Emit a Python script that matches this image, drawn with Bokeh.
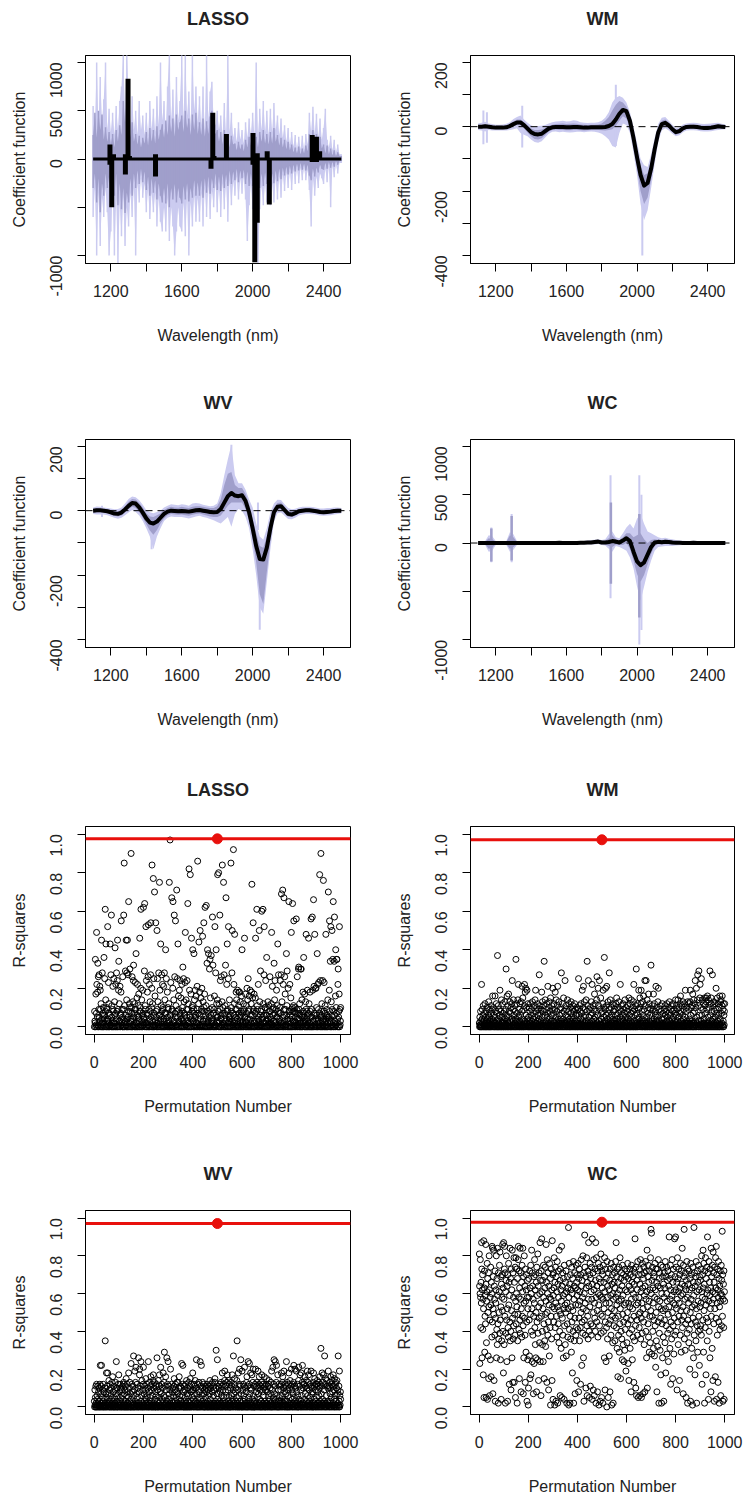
import math
from bokeh.plotting import figure
from bokeh.layouts import column, row
from bokeh.models import FixedTicker, Span, PrintfTickFormatter, LinearAxis
from bokeh.embed import file_html
from bokeh.resources import INLINE

# ---------------- data ----------------
WL = list(range(1100, 2501, 20))      # wavelength grid (nm) for WM / WV / WC
WL10 = list(range(1100, 2501, 10))    # wavelength grid (nm) for LASSO bands

# LASSO coefficient bands
LASSO_DARK_HI = [250,480,220,500,300,460,200,330,180,280,
                 150,260,120,300,180,350,250,600,380,660,
                 450,220,380,180,260,150,240,120,220,160,
                 280,140,320,180,300,160,340,200,300,360,
                 220,400,250,450,280,420,230,460,300,380,
                 450,280,500,320,420,250,460,300,480,260,
                 380,250,420,230,390,260,440,500,300,260,
                 300,180,280,150,300,160,260,120,240,150,
                 160,90,180,100,150,80,200,120,230,140,
                 260,150,230,120,280,180,300,160,260,150,
                 280,160,320,180,250,140,220,120,200,100,
                 180,90,150,70,120,60,130,50,110,60,
                 140,80,260,160,300,140,260,120,230,110,
                 150,60,140,50,110,40,90,30,70,30,
                 30]
LASSO_DARK_LO = [-300,-150,-450,-200,-550,-250,-380,-150,-300,-180,
                 -420,-200,-380,-150,-480,-250,-520,-300,-560,-350,
                 -450,-200,-380,-150,-300,-120,-260,-100,-240,-130,
                 -320,-180,-380,-200,-350,-220,-420,-250,-380,-450,
                 -300,-460,-250,-500,-300,-420,-260,-450,-300,-400,
                 -460,-280,-420,-250,-440,-300,-400,-220,-380,-240,
                 -380,-220,-400,-200,-350,-180,-360,-200,-300,-150,
                 -320,-180,-330,-150,-300,-160,-280,-120,-260,-130,
                 -220,-100,-240,-120,-200,-110,-260,-130,-280,-150,
                 -280,-160,-320,-180,-300,-150,-280,-140,-260,-130,
                 -280,-150,-250,-120,-230,-100,-210,-90,-170,-80,
                 -160,-70,-150,-60,-130,-50,-120,-40,-110,-50,
                 -120,-60,-170,-220,-100,-180,-90,-140,-60,-100,
                 -110,-40,-100,-30,-90,-30,-80,-20,-60,-20,
                 -20]
LASSO_LIGHT_HI = [550,300,1000,350,850,400,620,1000,300,520,
                  280,480,250,550,300,600,750,1080,500,1080,
                  700,350,650,300,500,250,600,300,450,250,
                  480,250,600,300,520,280,650,350,1000,400,
                  600,300,750,1080,400,720,350,850,400,600,
                  1080,400,1080,450,700,350,1080,500,750,380,
                  650,350,750,300,1080,400,700,800,400,350,
                  500,300,450,250,580,250,1080,280,480,220,
                  320,180,380,200,300,160,380,220,420,260,
                  480,250,1000,250,520,300,600,280,500,250,
                  520,280,580,300,450,250,420,220,350,180,
                  320,150,280,130,250,110,230,100,240,100,
                  260,150,480,280,540,260,470,230,420,200,
                  320,520,200,120,240,90,200,70,150,50,
                  50]
LASSO_LIGHT_LO = [-600,-300,-1000,-350,-900,-400,-600,-300,-550,-1000,
                  -750,-350,-1000,-400,-1080,-450,-800,-400,-900,-500,
                  -700,-350,-600,-300,-1000,-250,-450,-200,-400,-250,
                  -550,-300,-620,-350,-550,-350,-700,-400,-650,-750,
                  -500,-750,-400,-850,-500,-700,-1000,-750,-500,-700,
                  -750,-450,-800,-400,-1000,-450,-700,-380,-650,-400,
                  -650,-350,-700,-300,-600,-280,-620,-320,-500,-250,
                  -550,-300,-600,-250,-520,-250,-650,-220,-480,-230,
                  -380,-180,-420,-200,-360,-180,-420,-850,-480,-250,
                  -520,-300,-580,-1080,-520,-280,-480,-250,-450,-220,
                  -480,-250,-450,-200,-420,-180,-400,-160,-330,-140,
                  -300,-130,-320,-110,-260,-100,-250,-90,-220,-90,
                  -220,-110,-320,-700,-200,-380,-180,-300,-150,-200,
                  -260,-100,-240,-80,-500,-70,-190,-60,-150,-40,
                  -40]
# LASSO estimate: non-zero coefficient bars
LASSO_BAR_WL = [1195,1205,1215,1282,1297,1305,1452,1765,1775,1782,1852,2002,2012,2026,2082,2094,2336,2360,2378]
LASSO_BAR_LO = [-60,-500,0,-160,0,0,-180,-100,0,0,0,-60,-1070,-660,0,-470,-30,-30,0]
LASSO_BAR_HI = [150,0,50,50,830,30,50,0,480,30,260,270,0,60,80,0,250,230,80]

# WM
WM_EST = [0,0,1,0,-2,-3,-3,-3,-2,2,
          8,13,13,5,-6,-17,-23,-24,-22,-14,
          -6,-2,-1,-1,-1,-2,-2,-1,-1,-2,
          -3,-3,-2,-2,-2,-2,-1,2,8,22,
          40,52,48,18,-35,-95,-150,-183,-175,-130,
          -70,-18,8,12,4,-8,-17,-14,-5,-1,
          0,0,-1,-3,-4,-4,-3,-1,1,0,
          -1]
WM_DLO = [-5,-5,-6,-5,-7,-8,-8,-8,-7,-4,
          1,5,4,-5,-18,-30,-38,-40,-36,-26,
          -15,-10,-9,-10,-10,-11,-11,-10,-10,-11,
          -12,-11,-10,-10,-10,-11,-12,-10,-8,2,
          18,32,25,-5,-60,-130,-200,-240,-220,-165,
          -95,-35,-3,3,-5,-16,-25,-21,-12,-7,
          -6,-6,-7,-9,-10,-10,-9,-7,-5,-5,
          -5]
WM_DHI = [5,5,8,5,3,2,2,3,4,8,
          16,22,22,14,4,-6,-10,-10,-9,-4,
          3,6,8,9,10,8,9,10,9,7,
          6,5,6,6,7,10,18,30,50,68,
          80,75,62,32,-15,-70,-120,-150,-145,-105,
          -50,-5,18,22,12,0,-9,-7,2,5,
          6,7,6,4,3,4,5,6,7,5,
          4]
WM_LLO = [-10,-12,-15,-10,-12,-12,-12,-12,-12,-10,
          -8,-5,-20,-25,-30,-40,-48,-50,-45,-34,
          -22,-16,-15,-17,-16,-17,-18,-17,-16,-16,
          -17,-16,-15,-16,-18,-22,-30,-40,-60,-65,
          -20,10,5,-20,-80,-150,-240,-290,-260,-190,
          -115,-48,-12,-5,-12,-22,-30,-27,-17,-12,
          -11,-11,-12,-14,-15,-15,-14,-12,-10,-9,
          -8]
WM_LHI = [10,12,15,10,8,6,6,7,9,14,
          24,30,35,22,12,4,0,2,3,5,
          10,14,16,17,18,16,17,20,18,14,
          12,11,12,12,14,18,28,45,75,90,
          95,90,75,45,0,-50,-100,-120,-125,-85,
          -35,8,28,30,18,6,-4,-2,7,10,
          11,12,11,9,8,9,10,11,12,9,
          7]
WM_SPIKE_WL = [1130,1150,1350,1880,2030]
WM_SPIKE_LO = [-55,-50,-65,-60,-400]
WM_SPIKE_HI = [50,45,65,130,-120]

# WV
WV_EST = [0,1,1,0,-2,-5,-9,-10,-6,4,
          15,24,22,10,-6,-24,-37,-40,-34,-22,
          -10,-3,0,-1,-2,-1,-2,-3,-1,1,
          2,0,-2,-4,-5,-4,5,25,45,55,
          47,45,48,30,-5,-55,-110,-150,-152,-115,
          -55,-5,12,14,2,-10,-12,-8,-2,0,
          1,1,0,-2,-4,-5,-4,-3,-1,0,
          0]
WV_DLO = [-6,-6,-5,-6,-8,-12,-16,-18,-15,-6,
          4,12,8,-5,-22,-42,-62,-75,-60,-40,
          -24,-14,-10,-12,-13,-12,-14,-16,-13,-10,
          -9,-12,-15,-18,-20,-20,-15,0,15,25,
          25,25,25,5,-30,-90,-160,-260,-290,-190,
          -95,-22,2,4,-8,-19,-20,-16,-9,-6,
          -5,-5,-6,-8,-10,-11,-10,-9,-7,-6,
          -5]
WV_DHI = [6,8,7,6,4,2,-2,-2,3,14,
          28,36,35,24,10,-8,-18,-20,-14,-8,
          2,8,12,10,9,12,10,8,12,14,
          14,12,10,8,8,14,35,80,115,120,
          80,70,70,52,20,-25,-70,-110,-115,-80,
          -25,10,24,25,12,0,-3,0,5,6,
          7,7,6,4,3,2,3,4,5,6,
          5]
WV_LLO = [-10,-12,-12,-12,-14,-18,-22,-25,-22,-14,
          -6,2,-4,-15,-32,-55,-80,-120,-80,-55,
          -32,-22,-18,-20,-20,-20,-22,-24,-21,-18,
          -16,-20,-22,-26,-30,-35,-40,-30,-20,-50,
          -10,5,0,-20,-55,-120,-200,-300,-320,-220,
          -120,-35,-8,-6,-16,-26,-27,-22,-15,-12,
          -10,-10,-11,-13,-15,-16,-15,-14,-12,-10,
          -8]
WV_LHI = [10,13,12,10,8,7,4,5,10,22,
          36,44,42,32,18,2,-5,-8,-4,0,
          10,15,20,18,17,20,18,15,22,24,
          22,18,16,14,15,22,55,110,160,205,
          110,85,85,65,35,10,-40,-80,-90,-55,
          -5,22,34,33,20,8,4,6,10,12,
          12,12,11,9,7,7,8,8,10,10,
          8]
WV_SPIKE_WL = [1150,1430,1880,2040,2030]
WV_SPIKE_LO = [-20,-120,-30,-370,-60]
WV_SPIKE_HI = [15,-10,205,-100,25]

# WC
WC_EST = [0,0,0,1,0,0,0,0,0,1,
          0,0,0,0,0,0,0,0,0,0,
          0,0,1,2,1,0,0,0,1,2,
          3,5,5,10,15,5,5,10,20,15,
          5,25,50,20,-90,-190,-230,-200,-120,-40,
          5,12,8,12,10,5,3,2,1,0,
          1,2,1,0,0,0,0,0,1,0,
          0]
WC_DLO = [-8,-8,-10,-60,-50,-10,-8,-8,-10,-60,
          -40,-10,-8,-8,-8,-8,-8,-8,-8,-8,
          -8,-8,-8,-8,-9,-9,-8,-8,-9,-9,
          -8,-8,-8,-5,0,-10,-15,-30,-40,-15,
          -20,-20,0,-60,-180,-320,-400,-330,-220,-110,
          -30,-10,-15,-10,-12,-15,-12,-10,-10,-10,
          -9,-9,-9,-9,-9,-8,-8,-8,-8,-8,
          -8]
WC_DHI = [8,8,10,50,40,10,8,8,10,80,
          60,10,8,8,8,8,8,8,8,8,
          8,8,10,12,10,9,8,8,10,12,
          12,14,15,25,30,20,25,50,80,40,
          30,60,100,100,60,80,100,40,0,30,
          40,35,30,35,30,25,18,15,14,12,
          12,13,12,10,10,9,9,9,10,8,
          8]
WC_LLO = [-15,-15,-20,-90,-80,-20,-15,-15,-20,-90,
          -70,-20,-15,-15,-15,-15,-15,-15,-15,-15,
          -15,-15,-16,-16,-16,-16,-15,-15,-16,-16,
          -15,-15,-15,-15,-10,-20,-25,-60,-90,-30,
          -40,-60,-80,-150,-260,-450,-600,-450,-300,-180,
          -80,-40,-35,-30,-30,-30,-25,-22,-20,-20,
          -18,-18,-17,-16,-16,-15,-15,-15,-15,-15,
          -15]
WC_LHI = [15,15,20,80,70,20,15,15,22,110,
          90,20,15,15,15,15,15,15,15,15,
          15,15,18,22,18,16,15,15,18,22,
          22,25,30,35,40,30,40,90,120,60,
          50,100,160,200,150,250,300,200,120,100,
          80,60,50,55,45,40,30,26,24,22,
          22,24,22,18,18,16,16,16,18,15,
          15]
WC_SPIKE_WL = [1175,1290,1850,2013,2025]
WC_SPIKE_LO = [-200,-200,-570,-1050,-900]
WC_SPIKE_HI = [160,300,700,700,500]
WC_DSPIKE_WL = [1175,1290,1852,2013]
WC_DSPIKE_LO = [-190,-180,-420,-770]
WC_DSPIKE_HI = [150,280,420,300]

# Permutation R-squares (in hundredths), permutations 1..1000
LASSO_R2 = [
0,8,3,2,35,0,17,1,7,49,22,0,5,18,33,1,26,0,9,27,5,3,21,0,19,9,1,12,0,45,4,2,28,0,7,6,10,0,2,36,4,6,25,0,61,8,14,43,0,3,
10,9,0,1,52,3,4,23,0,12,7,2,0,6,43,1,1,27,0,58,5,11,0,3,9,21,0,8,2,25,0,2,13,6,41,0,7,22,4,3,28,0,8,24,45,0,9,1,19,34,
0,12,3,3,21,0,6,7,18,55,1,2,9,0,5,26,0,4,9,58,0,85,2,11,0,3,29,6,1,45,0,14,28,4,45,0,5,27,8,65,0,2,12,10,30,0,8,3,4,90,
0,10,7,26,3,0,13,1,24,32,5,7,0,12,1,9,23,0,9,38,2,2,0,15,6,22,0,5,11,4,17,0,3,8,46,0,8,10,20,61,0,1,14,3,6,0,19,7,2,62,
1,4,5,29,64,0,11,9,2,52,0,24,2,7,0,18,6,1,26,53,0,9,4,22,0,3,13,8,27,54,0,5,10,20,84,0,12,3,1,77,0,25,6,7,70,0,16,1,3,54,
5,8,0,2,50,9,25,0,13,2,1,28,0,6,75,6,19,0,3,43,4,11,0,27,8,5,22,0,10,9,0,21,4,3,28,0,14,7,1,40,0,7,25,1,2,0,18,5,10,0,
9,3,12,0,75,2,0,97,6,6,23,0,1,4,67,0,9,8,20,65,0,2,14,3,58,0,26,7,5,55,0,11,1,8,71,0,1,25,5,43,0,16,9,3,0,19,2,7,24,6,
0,15,4,4,0,22,8,10,0,31,3,2,25,0,13,7,6,0,23,49,1,1,14,0,9,5,24,0,3,64,9,12,0,2,82,0,19,6,5,79,0,2,17,4,46,0,8,10,11,40,
3,3,0,9,38,7,14,0,1,19,5,6,0,16,2,2,0,21,9,86,0,7,4,12,44,0,6,18,0,50,1,4,15,0,9,8,20,0,1,47,3,13,0,3,54,10,8,17,0,62,
0,4,6,11,63,0,2,33,8,40,0,7,3,38,0,1,5,30,0,35,9,15,0,6,37,2,3,0,10,57,4,32,0,2,7,9,0,16,1,52,0,1,28,6,40,0,12,3,5,14,
79,5,8,0,80,2,12,0,3,58,9,24,0,6,4,26,0,1,13,84,7,10,0,2,75,1,27,0,7,6,11,0,32,3,67,0,4,22,8,43,0,9,2,25,52,0,3,5,14,0,
4,6,0,2,85,8,10,0,28,50,3,1,0,7,92,6,22,0,12,48,2,3,0,9,5,18,0,14,9,4,0,19,1,2,0,11,7,18,0,18,3,5,13,0,6,8,0,16,1,40,
2,7,0,3,8,12,0,1,9,46,5,5,0,17,3,2,0,11,7,20,0,4,14,1,25,0,8,9,16,0,1,4,19,0,6,2,12,0,18,74,6,3,15,0,54,8,9,0,17,3,
0,2,7,15,46,0,8,3,1,61,0,11,9,4,0,22,5,3,0,50,1,13,0,6,29,8,1,0,9,60,4,0,5,2,61,0,12,6,27,52,0,2,10,10,0,24,3,6,0,36,
6,9,0,3,13,4,1,0,11,8,2,0,26,5,8,0,4,2,12,49,0,1,21,9,6,0,10,3,3,33,0,14,7,24,0,2,1,9,0,19,5,5,11,0,43,8,1,27,0,7,
3,4,0,10,24,7,2,0,27,69,2,13,0,1,71,5,22,0,6,67,9,3,26,0,17,1,9,0,1,38,6,11,29,0,4,3,20,0,2,65,8,8,0,22,4,6,0,15,2,49,
0,9,5,10,64,0,3,8,11,55,0,1,8,3,10,0,5,7,2,56,1,9,0,26,4,7,0,1,30,31,9,4,0,12,6,2,0,30,2,30,0,6,14,5,1,0,18,8,3,36,
7,5,0,17,3,2,0,13,9,48,0,8,1,4,19,0,3,6,7,46,0,12,2,2,0,18,8,5,0,56,1,0,9,5,57,0,19,3,3,66,0,21,7,6,48,0,1,20,4,20,
0,10,6,2,38,0,22,3,4,9,23,0,1,7,79,2,0,24,5,90,0,6,8,12,0,3,24,1,0,76,4,8,23,0,2,7,11,0,4,48,3,1,0,9,6,5,0,14,2,70,
5,4,0,19,55,8,2,34,0,52,3,13,0,6,50,9,1,35,0,65,2,8,0,34,57,6,3,0,16,40,1,10,7,35,35,0,2,4,22,30,0,5,8,17,52,0,9,1,3,10]

WM_R2 = [
2,0,5,1,0,8,3,0,1,22,0,4,9,2,0,6,11,0,3,1,7,0,2,12,0,5,1,0,8,3,0,10,2,0,4,1,6,0,13,2,0,5,9,0,3,1,0,7,11,2,
0,4,1,9,16,0,3,10,2,0,6,1,0,5,16,2,0,8,1,12,0,3,7,0,37,1,0,11,4,0,2,9,0,6,19,1,0,3,8,0,14,2,0,5,12,1,0,7,3,0,
2,0,8,1,13,0,4,9,0,30,1,6,0,16,3,0,11,2,0,17,5,0,8,1,13,0,3,7,0,10,2,0,12,4,24,1,0,9,3,14,0,6,1,0,11,2,8,0,4,35,
0,3,12,1,0,7,2,14,0,22,1,5,0,9,3,0,12,1,6,0,13,2,0,8,21,0,4,15,1,0,9,2,0,11,22,3,0,18,1,20,0,6,10,2,19,0,4,1,12,0,
5,1,0,10,3,0,8,2,12,0,1,6,0,9,3,0,13,1,4,0,7,2,0,11,1,0,5,14,0,19,2,0,8,1,10,0,3,12,0,6,1,0,9,4,27,0,2,11,1,7,
0,3,9,1,18,0,5,13,2,0,8,1,0,11,34,2,0,6,14,1,0,9,3,0,12,1,5,0,7,21,0,2,10,1,0,13,4,0,8,2,15,0,1,6,0,11,3,0,9,20,
1,0,7,3,12,0,2,9,0,18,1,5,0,14,3,0,8,1,11,21,0,4,2,0,13,1,6,0,9,2,0,10,3,1,28,0,7,2,12,0,4,1,0,15,2,8,0,3,1,24,
0,6,1,11,2,0,9,3,0,14,1,5,0,8,2,12,0,4,1,0,10,3,0,7,13,1,0,5,2,9,0,11,1,4,0,8,2,0,12,1,3,0,9,6,0,2,10,1,0,7,
3,0,9,1,25,0,6,2,11,0,1,8,0,4,12,2,0,7,1,19,0,3,10,0,21,1,5,0,13,2,0,9,1,6,0,14,3,0,8,34,1,0,11,2,24,0,5,1,9,0,
2,0,10,1,6,0,13,3,0,22,1,7,0,11,2,0,9,4,1,17,0,5,12,0,3,1,8,0,14,26,2,0,6,1,20,0,11,3,0,24,1,0,9,2,15,0,4,1,7,0,
1,8,0,12,19,2,0,5,10,36,0,3,1,9,20,0,6,2,11,21,0,4,1,0,13,2,7,0,9,28,1,0,5,14,0,3,1,10,0,6,2,0,12,1,4,0,8,2,0,11,
0,3,9,1,0,6,12,2,0,15,1,4,0,10,2,0,7,1,13,0,3,9,0,5,22,1,0,8,2,11,0,4,1,6,0,12,3,0,9,1,0,7,2,14,0,5,1,10,0,3,
2,0,8,1,11,0,4,2,9,15,0,6,1,0,12,3,0,7,1,14,0,5,2,10,0,1,8,0,13,22,0,3,1,9,0,6,2,0,11,30,1,0,7,2,12,0,4,1,9,19,
0,5,1,10,15,0,3,2,12,19,1,0,8,4,0,13,2,0,6,16,1,9,0,3,24,0,11,2,0,24,1,5,0,14,2,0,7,1,10,17,0,3,12,0,6,1,0,9,2,32,
1,0,7,3,11,0,2,9,0,17,1,4,0,12,2,0,8,1,6,21,0,3,10,1,0,5,2,13,0,20,1,0,9,3,0,6,1,11,0,2,0,8,1,4,0,12,2,0,7,1,
0,4,1,9,0,2,11,0,6,1,0,8,3,0,12,1,5,0,2,10,0,7,1,0,13,3,0,6,1,9,0,2,11,0,4,1,0,8,2,12,0,5,1,0,9,3,0,7,1,14,
0,6,2,11,0,1,9,3,0,14,1,5,0,10,2,0,7,1,12,16,0,3,8,0,2,11,1,0,6,13,0,4,1,9,0,2,12,0,5,19,1,0,8,2,10,0,3,1,13,0,
2,0,9,1,12,0,4,2,13,19,0,6,1,10,3,0,11,2,0,17,1,7,0,14,2,0,8,1,12,24,0,3,10,1,20,0,5,2,14,27,1,0,11,3,29,0,6,1,15,22,
1,0,10,3,25,0,6,1,14,2,0,9,1,12,0,4,2,15,0,11,1,7,0,13,15,2,0,9,1,16,0,5,2,14,0,1,10,3,0,29,1,6,0,12,15,2,0,8,3,27,
0,4,11,1,0,13,2,8,0,12,1,5,0,9,20,2,0,7,1,15,0,3,12,0,6,1,10,0,2,16,0,4,1,13,14,0,7,2,11,16,1,0,9,3,12,0,6,1,8,12]

WV_R2 = [
3,0,9,1,5,0,11,2,0,12,1,6,0,4,11,2,0,8,1,10,0,3,12,0,22,1,7,0,11,22,2,0,5,9,1,0,12,3,0,8,1,4,0,10,35,2,0,7,1,18,
0,5,11,2,18,0,7,1,3,14,0,9,2,0,12,1,6,0,10,4,0,2,13,1,16,0,8,3,0,11,1,5,0,9,2,0,13,1,7,24,0,3,10,0,6,2,0,12,1,17,
1,0,8,3,12,0,5,1,10,0,2,9,0,6,11,1,0,4,12,13,0,7,2,0,9,1,11,0,3,15,0,6,1,12,0,2,8,0,5,18,1,0,10,3,13,0,7,2,0,23,
0,4,12,1,8,0,11,2,0,27,1,6,0,9,19,0,3,13,1,21,0,7,2,12,0,5,1,10,0,26,2,0,8,17,20,1,0,11,3,24,0,6,1,14,0,2,9,0,12,21,
1,0,7,3,11,0,5,2,9,15,0,4,1,12,0,6,2,10,0,24,1,0,8,13,2,0,5,11,1,16,0,3,9,0,12,1,6,0,14,17,0,2,10,1,13,0,4,8,0,11,
0,6,12,1,26,0,3,9,0,14,2,0,11,5,17,1,0,8,3,21,0,7,1,12,0,4,10,0,2,18,1,6,0,13,29,0,5,11,1,16,0,2,9,0,26,3,0,12,1,24,
0,4,11,1,7,0,9,2,0,20,1,5,0,12,3,0,8,1,10,0,2,6,0,11,15,1,0,9,3,12,0,5,1,8,0,13,2,0,7,13,1,0,10,4,16,0,6,1,11,2,
0,3,10,1,23,0,6,2,12,22,0,8,1,0,11,3,0,9,1,5,0,12,2,0,14,1,7,0,10,3,0,6,1,13,0,2,9,0,11,15,1,0,8,3,12,0,5,1,9,18,
1,0,9,4,12,0,6,2,11,14,0,3,1,10,25,0,7,2,0,12,1,5,0,9,13,2,0,8,1,24,0,4,11,1,22,0,6,2,10,13,0,3,1,12,0,7,2,0,9,11,
0,5,1,10,2,0,8,1,12,0,3,9,0,6,11,1,0,7,2,14,0,4,10,1,0,12,2,0,8,13,1,0,6,11,2,0,9,1,13,15,0,3,10,0,30,2,0,7,1,25,
0,4,11,2,7,0,10,1,3,12,0,8,2,0,13,1,6,0,11,18,0,3,9,1,12,0,5,2,14,19,0,1,8,0,11,2,6,0,13,17,1,0,9,3,14,0,5,1,12,0,
2,0,10,1,13,0,6,3,11,17,0,4,1,9,27,0,7,2,12,15,1,0,8,3,10,0,5,1,14,35,0,2,9,0,18,1,6,0,12,20,0,3,11,1,25,0,7,2,0,19,
1,0,9,3,12,0,6,1,11,21,0,4,2,10,0,1,8,13,0,16,2,0,11,1,24,0,5,3,12,23,0,7,1,10,18,0,2,9,0,17,1,4,0,13,20,0,6,2,11,0,
0,3,12,1,20,0,8,2,11,13,0,5,1,10,19,0,7,2,12,16,0,4,1,9,0,11,3,0,13,17,1,0,8,2,12,0,6,1,10,16,0,3,11,0,9,2,0,12,1,15,
2,0,8,1,11,0,6,3,12,14,0,4,1,10,0,7,2,13,0,19,1,0,9,3,21,0,5,1,12,25,0,7,2,11,24,0,4,1,13,22,0,6,2,0,17,1,9,0,12,3,
0,5,1,11,2,0,9,3,12,18,0,6,1,13,16,0,4,2,10,19,1,0,8,3,12,0,7,1,11,24,0,3,13,0,9,1,6,0,12,18,2,0,10,1,14,0,5,2,11,20,
1,0,9,4,12,0,7,2,13,22,0,5,1,11,20,0,3,10,1,19,0,8,2,12,0,6,1,0,14,21,0,4,2,11,17,1,0,9,3,18,0,6,1,13,22,0,2,10,1,12,
0,4,12,1,16,0,7,2,11,14,0,3,1,10,19,0,6,2,13,17,1,0,9,3,12,0,5,1,11,19,0,7,2,10,0,1,8,0,13,18,0,4,2,11,15,1,0,9,3,12,
0,5,1,12,14,0,8,2,11,13,0,6,1,10,16,0,3,12,1,31,0,7,2,11,18,0,4,1,13,17,2,0,9,3,27,1,0,12,2,15,0,6,1,11,14,0,3,10,1,19,
2,0,11,1,13,0,7,3,10,16,0,5,1,12,14,0,8,2,11,17,1,0,9,4,15,0,6,1,12,13,0,3,10,1,14,0,7,2,9,27,1,0,11,3,19,0,6,1,8,4]

WC_R2 = [
81,64,23,60,78,58,42,66,55,87,73,26,62,70,41,57,17,52,88,5,63,72,29,48,59,44,86,65,5,34,56,61,76,4,68,50,27,71,15,53,80,62,6,46,58,25,74,54,16,66,
60,37,85,45,84,7,52,69,83,49,14,64,57,38,72,3,47,55,62,80,26,41,68,33,84,59,44,2,71,36,50,61,75,39,82,46,25,69,53,4,65,35,58,70,51,86,40,63,18,87,
57,33,73,85,48,71,2,61,39,67,80,46,24,64,52,3,70,42,37,76,54,66,12,59,45,84,35,68,40,9,73,51,62,26,83,47,13,71,36,58,43,79,13,66,49,38,74,5,56,79,
44,60,73,53,2,68,35,49,78,85,58,41,72,15,63,46,84,39,57,71,8,52,66,37,75,48,61,84,43,7,69,26,55,80,47,64,38,13,73,56,29,62,70,45,3,58,67,25,52,1,
10,68,58,46,27,72,15,63,49,75,17,60,40,83,52,24,71,64,38,57,7,48,69,23,55,78,42,62,33,70,26,50,66,8,74,45,59,25,81,39,64,14,53,71,47,34,60,87,24,67,
55,6,72,48,89,61,40,33,67,52,24,75,58,44,15,69,35,63,74,49,32,56,86,41,66,13,50,78,60,38,71,45,9,64,54,27,76,58,42,68,1,57,48,73,36,62,14,88,53,70,
4,59,71,45,63,79,52,1,66,42,74,55,3,69,48,61,37,77,53,2,65,44,72,58,34,83,51,40,67,6,73,49,62,31,56,85,5,64,47,71,38,59,26,68,52,4,75,43,60,54,
33,66,50,72,27,61,2,55,44,69,37,63,52,95,1,58,76,41,65,2,48,70,36,62,53,29,74,45,60,18,68,51,40,77,2,57,64,35,71,47,7,63,54,38,75,42,66,14,59,70,
62,41,76,54,8,68,47,73,35,61,56,42,12,70,50,78,64,22,45,67,58,39,80,52,26,71,3,60,46,91,74,55,38,69,10,63,51,79,43,6,66,48,72,36,57,87,64,40,5,70,
53,76,11,68,44,61,38,74,57,4,89,65,43,71,9,50,78,62,6,55,47,73,40,67,87,2,58,79,45,64,51,8,72,37,60,76,54,1,68,43,59,74,3,66,49,81,39,58,5,72,
63,48,70,2,57,75,40,66,52,26,79,61,9,45,73,55,24,68,42,0,77,58,36,64,50,5,71,44,62,27,55,67,8,73,46,59,38,76,52,1,65,48,70,34,60,2,57,74,43,66,
51,71,35,63,47,77,58,87,42,69,54,31,73,60,16,66,48,38,74,56,29,62,44,79,52,15,68,40,57,71,36,64,25,75,49,59,33,70,45,24,67,54,30,73,41,62,55,19,69,47,
72,34,61,50,76,44,23,68,55,14,64,39,73,53,31,70,46,62,8,57,75,41,66,25,52,69,37,60,73,13,48,65,35,71,89,58,43,10,74,54,6,67,46,62,38,77,55,5,70,49,
58,42,73,6,65,50,78,36,61,47,5,70,55,39,76,63,7,52,68,45,74,33,59,71,8,64,49,77,40,57,72,26,61,83,10,53,69,44,75,37,66,56,29,72,48,62,34,79,51,94,
60,92,28,67,48,74,40,63,55,31,71,46,69,27,58,76,43,62,21,73,50,35,66,8,57,73,32,64,45,78,53,2,68,39,71,56,30,63,47,17,75,52,2,60,44,69,26,74,51,37,
65,3,58,71,46,63,34,77,52,18,69,43,60,74,28,56,67,39,72,49,24,64,53,90,41,68,31,57,75,12,62,45,70,36,59,78,50,15,66,43,73,55,28,61,47,89,38,69,54,90,
62,40,74,52,66,9,57,79,45,68,33,61,73,48,55,14,70,63,38,76,51,59,29,72,46,65,84,42,60,53,7,75,48,69,94,36,64,57,30,71,44,62,5,67,51,77,39,58,2,73,
46,65,55,34,72,41,62,20,68,50,3,76,57,44,70,31,63,53,1,74,47,66,26,59,95,38,71,54,17,64,45,69,35,77,52,2,61,43,72,29,66,56,40,75,48,62,22,69,53,41,
67,43,73,55,38,80,61,12,58,70,46,83,63,29,76,51,65,2,72,57,42,79,54,17,68,47,74,60,35,90,62,45,71,4,56,77,40,66,59,26,73,52,63,8,84,48,69,55,31,75,
61,14,82,57,71,44,66,3,74,52,60,16,79,63,47,85,4,70,55,38,73,62,13,58,77,45,68,2,53,64,41,72,56,6,60,75,43,67,59,93,48,70,3,57,65,42,72,4,61,56]

OBSERVED = {"LASSO": 0.976, "WM": 0.971, "WV": 0.971, "WC": 0.978}
OBS_PERM = 500

WL_TICKS = [1200, 1400, 1600, 1800, 2000, 2200, 2400]
WL_LABELS = {1400: "", 1800: "", 2200: ""}
PERM_TICKS = [0, 200, 400, 600, 800, 1000]
R2_TICKS = [0.0, 0.2, 0.4, 0.6, 0.8, 1.0]
COEF_TICKS_SMALL = [-400, -300, -200, -100, 0, 100, 200]
COEF_LABELS_SMALL = {-400: "-400", -300: "", -200: "-200", -100: "", 0: "0", 100: "", 200: "200"}
COEF_TICKS_BIG = [-1000, -500, 0, 500, 1000]
COEF_LABELS_BIG = {-1000: "-1000", -500: "", 0: "0", 500: "500", 1000: "1000"}

# ---------------- styling ----------------
FONT = "Liberation Sans"
TXT = "#222222"
LIGHT = "#CBCBF0"
DARK = "#A09FCB"
RED = "#E8100C"


def base(title, w, h, bl, br, bt, bb, xr, yr, xticks, yticks, xlab, ylab, xover, yover):
    p = figure(width=w, height=h, x_range=xr, y_range=yr, output_backend="svg",
               toolbar_location=None, min_border_left=bl, min_border_right=br,
               min_border_top=bt, min_border_bottom=bb)
    p.xgrid.visible = False
    p.ygrid.visible = False
    p.outline_line_color = "black"
    p.outline_line_width = 1
    p.outline_line_alpha = 1
    for ax, ticks, lab, over in ((p.xaxis[0], xticks, xlab, xover),
                                 (p.yaxis[0], yticks, ylab, yover)):
        ax.ticker = FixedTicker(ticks=ticks)
        ax.minor_tick_line_color = None
        ax.major_tick_in = 0
        ax.major_tick_out = 8
        ax.major_tick_line_color = "black"
        ax.axis_line_color = "black"
        ax.major_label_text_font = FONT
        ax.major_label_text_font_size = "16px"
        ax.major_label_text_color = TXT
        ax.axis_label = lab
        ax.axis_label_text_font = FONT
        ax.axis_label_text_font_size = "16px"
        ax.axis_label_text_font_style = "normal"
        ax.axis_label_text_color = TXT
        if over:
            ax.major_label_overrides = over
    p.xaxis[0].major_label_standoff = 13
    p.xaxis[0].axis_label_standoff = 27
    p.yaxis[0].major_label_standoff = 21
    p.yaxis[0].axis_label_standoff = 14
    p.yaxis[0].major_label_orientation = math.pi / 2
    # panel title: a tick-less axis above the frame whose label is the title
    tax = LinearAxis(ticker=FixedTicker(ticks=[]), axis_label=title,
                     axis_line_color=None, major_tick_line_color=None,
                     minor_tick_line_color=None, major_tick_in=0, major_tick_out=0,
                     minor_tick_in=0, minor_tick_out=0, major_label_standoff=0,
                     axis_label_standoff=27, axis_label_text_font=FONT,
                     axis_label_text_font_size="18px", axis_label_text_font_style="bold",
                     axis_label_text_color=TXT)
    p.add_layout(tax, "above")
    return p


def coef_panel(title, geom, yr, yticks, yover, est, dlo, dhi, llo, lhi, spikes, dspikes=None):
    w, h, bl, br, bt, bb = geom
    p = base(title, w, h, bl, br, bt, bb, (1057, 2552), yr, WL_TICKS, yticks,
             "Wavelength (nm)", "Coefficient function", WL_LABELS, yover)
    p.varea(x=WL, y1=llo, y2=lhi, fill_color=LIGHT)
    swl, slo, shi = spikes
    p.segment(x0=swl, y0=slo, x1=swl, y1=shi, line_color=LIGHT, line_width=2)
    p.varea(x=WL, y1=dlo, y2=dhi, fill_color=DARK)
    if dspikes:
        dwl, dlo2, dhi2 = dspikes
        p.segment(x0=dwl, y0=dlo2, x1=dwl, y1=dhi2, line_color=DARK, line_width=2.5)
    p.add_layout(Span(location=0, dimension="width", line_color="black",
                      line_width=1, line_dash="7 5"))
    p.line(WL, est, line_color="black", line_width=4, line_join="round")
    return p


def lasso_panel(geom):
    w, h, bl, br, bt, bb = geom
    p = base("LASSO", w, h, bl, br, bt, bb, (1057, 2552), (-1082, 1072), WL_TICKS,
             COEF_TICKS_BIG, "Wavelength (nm)", "Coefficient function",
             WL_LABELS, COEF_LABELS_BIG)
    p.varea(x=WL10, y1=LASSO_LIGHT_LO, y2=LASSO_LIGHT_HI, fill_color=LIGHT)
    p.segment(x0=WL10, y0=LASSO_LIGHT_LO, x1=WL10, y1=LASSO_LIGHT_HI,
              line_color=LIGHT, line_width=1.5)
    p.varea(x=WL10, y1=LASSO_DARK_LO, y2=LASSO_DARK_HI, fill_color=DARK)
    p.segment(x0=WL10, y0=LASSO_DARK_LO, x1=WL10, y1=LASSO_DARK_HI,
              line_color=DARK, line_width=1.5)
    p.line([1100, 2500], [0, 0], line_color="black", line_width=3)
    p.segment(x0=LASSO_BAR_WL, y0=LASSO_BAR_LO, x1=LASSO_BAR_WL, y1=LASSO_BAR_HI,
              line_color="black", line_width=5)
    return p


def perm_panel(title, geom, vals, obs):
    w, h, bl, br, bt, bb = geom
    p = base(title, w, h, bl, br, bt, bb, (-35, 1040), (-0.04, 1.04), PERM_TICKS, R2_TICKS,
             "Permutation Number", "R-squares", None, None)
    p.yaxis[0].formatter = PrintfTickFormatter(format="%.1f")
    perm = list(range(1, len(vals) + 1))
    p.scatter(perm, [v / 100 for v in vals], marker="circle", size=6,
              fill_color=None, line_color="black", line_width=1)
    p.add_layout(Span(location=obs, dimension="width", line_color=RED, line_width=3))
    p.scatter([OBS_PERM], [obs], marker="circle", size=10, fill_color=RED, line_color=RED)
    return p


# geometry: (width, height, border_left, border_right, border_top, border_bottom)
L1 = (372, 370, 85, 22, 55, 107); R1 = (371, 370, 98, 9, 55, 107)
L2 = (372, 370, 85, 22, 69, 93);  R2 = (371, 370, 98, 9, 69, 93)
L3 = (372, 380, 85, 22, 86, 86);  R3 = (371, 380, 98, 9, 86, 86)
L4 = (372, 377, 85, 22, 90, 78);  R4 = (371, 377, 98, 9, 90, 78)

p1 = lasso_panel(L1)
p2 = coef_panel("WM", R1, (-425, 221), COEF_TICKS_SMALL, COEF_LABELS_SMALL,
                WM_EST, WM_DLO, WM_DHI, WM_LLO, WM_LHI,
                (WM_SPIKE_WL, WM_SPIKE_LO, WM_SPIKE_HI))
p3 = coef_panel("WV", L2, (-425, 221), COEF_TICKS_SMALL, COEF_LABELS_SMALL,
                WV_EST, WV_DLO, WV_DHI, WV_LLO, WV_LHI,
                (WV_SPIKE_WL, WV_SPIKE_LO, WV_SPIKE_HI))
p4 = coef_panel("WC", R2, (-1080, 1070), COEF_TICKS_BIG, COEF_LABELS_BIG,
                WC_EST, WC_DLO, WC_DHI, WC_LLO, WC_LHI,
                (WC_SPIKE_WL, WC_SPIKE_LO, WC_SPIKE_HI),
                (WC_DSPIKE_WL, WC_DSPIKE_LO, WC_DSPIKE_HI))
p5 = perm_panel("LASSO", L3, LASSO_R2, OBSERVED["LASSO"])
p6 = perm_panel("WM", R3, WM_R2, OBSERVED["WM"])
p7 = perm_panel("WV", L4, WV_R2, OBSERVED["WV"])
p8 = perm_panel("WC", R4, WC_R2, OBSERVED["WC"])

layout = column(row(p1, p2), row(p3, p4), row(p5, p6), row(p7, p8))
open("out.html", "w").write(file_html(layout, INLINE))
